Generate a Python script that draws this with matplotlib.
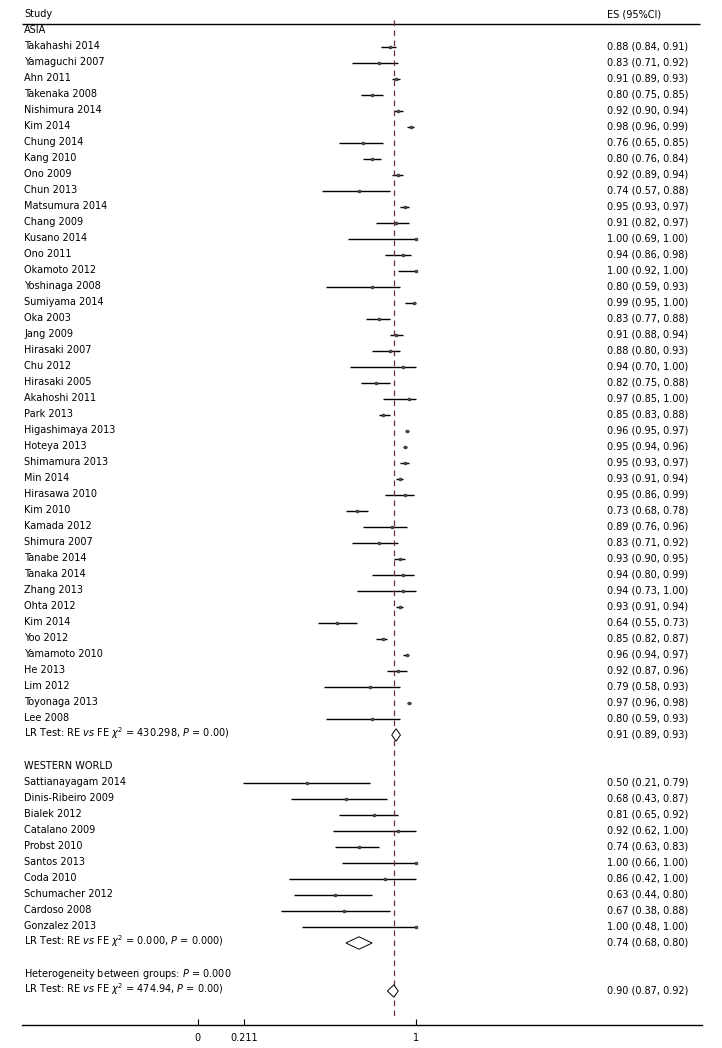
import numpy as np
import matplotlib.pyplot as plt
from matplotlib.patches import Polygon

plt.rcParams.update({
    "font.family": ["DejaVu Sans"],
    "font.size": 7.0,
    "mathtext.fontset": "dejavusans",
})

# ---- data ----
asia_studies = ["Takahashi 2014", "Yamaguchi 2007", "Ahn 2011", "Takenaka 2008",
                "Nishimura 2014", "Kim 2014", "Chung 2014", "Kang 2010", "Ono 2009",
                "Chun 2013", "Matsumura 2014", "Chang 2009", "Kusano 2014", "Ono 2011",
                "Okamoto 2012", "Yoshinaga 2008", "Sumiyama 2014", "Oka 2003", "Jang 2009",
                "Hirasaki 2007", "Chu 2012", "Hirasaki 2005", "Akahoshi 2011", "Park 2013",
                "Higashimaya 2013", "Hoteya 2013", "Shimamura 2013", "Min 2014",
                "Hirasawa 2010", "Kim 2010", "Kamada 2012", "Shimura 2007", "Tanabe 2014",
                "Tanaka 2014", "Zhang 2013", "Ohta 2012", "Kim 2014", "Yoo 2012",
                "Yamamoto 2010", "He 2013", "Lim 2012", "Toyonaga 2013", "Lee 2008"]
asia_es = [0.88, 0.83, 0.91, 0.80, 0.92, 0.98, 0.76, 0.80, 0.92, 0.74, 0.95, 0.91, 1.00,
           0.94, 1.00, 0.80, 0.99, 0.83, 0.91, 0.88, 0.94, 0.82, 0.97, 0.85, 0.96, 0.95,
           0.95, 0.93, 0.95, 0.73, 0.89, 0.83, 0.93, 0.94, 0.94, 0.93, 0.64, 0.85, 0.96,
           0.92, 0.79, 0.97, 0.80]
asia_lo = [0.84, 0.71, 0.89, 0.75, 0.90, 0.96, 0.65, 0.76, 0.89, 0.57, 0.93, 0.82, 0.69,
           0.86, 0.92, 0.59, 0.95, 0.77, 0.88, 0.80, 0.70, 0.75, 0.85, 0.83, 0.95, 0.94,
           0.93, 0.91, 0.86, 0.68, 0.76, 0.71, 0.90, 0.80, 0.73, 0.91, 0.55, 0.82, 0.94,
           0.87, 0.58, 0.96, 0.59]
asia_hi = [0.91, 0.92, 0.93, 0.85, 0.94, 0.99, 0.85, 0.84, 0.94, 0.88, 0.97, 0.97, 1.00,
           0.98, 1.00, 0.93, 1.00, 0.88, 0.94, 0.93, 1.00, 0.88, 1.00, 0.88, 0.97, 0.96,
           0.97, 0.94, 0.99, 0.78, 0.96, 0.92, 0.95, 0.99, 1.00, 0.94, 0.73, 0.87, 0.97,
           0.96, 0.93, 0.98, 0.93]

west_studies = ["Sattianayagam 2014", "Dinis-Ribeiro 2009", "Bialek 2012", "Catalano 2009",
                "Probst 2010", "Santos 2013", "Coda 2010", "Schumacher 2012",
                "Cardoso 2008", "Gonzalez 2013"]
west_es = [0.50, 0.68, 0.81, 0.92, 0.74, 1.00, 0.86, 0.63, 0.67, 1.00]
west_lo = [0.21, 0.43, 0.65, 0.62, 0.63, 0.66, 0.42, 0.44, 0.38, 0.48]
west_hi = [0.79, 0.87, 0.92, 1.00, 0.83, 1.00, 1.00, 0.80, 0.88, 1.00]

asia_pool = (0.91, 0.89, 0.93)
west_pool = (0.74, 0.68, 0.80)
overall_pool = (0.90, 0.87, 0.92)

asia_lr = r"LR Test: RE $\mathit{vs}$ FE $\chi^2$ = 430.298, $\mathit{P}$ = 0.00)"
west_lr = r"LR Test: RE $\mathit{vs}$ FE $\chi^2$ = 0.000, $\mathit{P}$ = 0.000)"
overall_lr = r"LR Test: RE $\mathit{vs}$ FE $\chi^2$ = 474.94, $\mathit{P}$ = 0.00)"
hetero_txt = r"Heterogeneity between groups: $\mathit{P}$ = 0.000"

xticks = [0, 0.211, 1]
xtick_labels = ["0", "0.211", "1"]

# ---- layout (pixel -> data helpers) ----
W, H = 722, 1048
x0_px, px_per_unit = 197.7, 218.0
row0_px, row_px = 31.0, 16.0
axis_px = 1025


def px2x(p):
    return (p - x0_px) / px_per_unit


def px2row(p):
    return (p - row0_px) / row_px


fig = plt.figure(figsize=(W / 100, H / 100), dpi=100)
ax = fig.add_axes([0, (H - axis_px) / H, 1, axis_px / H])
ax.set_xlim(px2x(0), px2x(W))
ax.set_ylim(px2row(axis_px), px2row(0))

x_text = px2x(24)
x_es = px2x(607)
txt_off = 0.15


def fmt(es, lo, hi):
    return f"{es:.2f} ({lo:.2f}, {hi:.2f})"


def study_rows(names, es, lo, hi, start):
    for i, (n, e, l, h) in enumerate(zip(names, es, lo, hi)):
        r = start + i
        ax.hlines(r, l, h, color="black", lw=1.0)
        ax.plot(e, r, marker="s", ms=1.6, color="#444444", mec="#444444")
        ax.text(x_text, r + txt_off, n, va="baseline", ha="left")
        ax.text(x_es, r + txt_off, fmt(e, l, h), va="baseline", ha="left")


def diamond(pool, r, half=0.39):
    es, lo, hi = pool
    ax.add_patch(Polygon([[lo, r], [es, r - half], [hi, r], [es, r + half]],
                         closed=True, fc="white", ec="black", lw=0.7, zorder=4))


# header
ax.text(x_text, -1 + txt_off, "Study", va="baseline", ha="left")
ax.text(x_es, -1 + txt_off, "ES (95%CI)", va="baseline", ha="left")
ax.hlines(px2row(23.5), px2x(22), px2x(700), color="black", lw=1.0)

# Asia
r = 0
ax.text(x_text, r + txt_off, "ASIA", va="baseline", ha="left")
study_rows(asia_studies, asia_es, asia_lo, asia_hi, r + 1)
r_asia_lr = r + 1 + len(asia_studies)
ax.text(x_text, r_asia_lr + txt_off, asia_lr, va="baseline", ha="left")
ax.text(x_es, r_asia_lr + txt_off, fmt(*asia_pool), va="baseline", ha="left")
diamond(asia_pool, r_asia_lr)

# Western world
r = r_asia_lr + 2
ax.text(x_text, r + txt_off, "WESTERN WORLD", va="baseline", ha="left")
study_rows(west_studies, west_es, west_lo, west_hi, r + 1)
r_west_lr = r + 1 + len(west_studies)
ax.text(x_text, r_west_lr + txt_off, west_lr, va="baseline", ha="left")
ax.text(x_es, r_west_lr + txt_off, fmt(*west_pool), va="baseline", ha="left")
diamond(west_pool, r_west_lr)

# overall
r_het = r_west_lr + 2
ax.text(x_text, r_het + txt_off, hetero_txt, va="baseline", ha="left")
r_all = r_het + 1
ax.text(x_text, r_all + txt_off, overall_lr, va="baseline", ha="left")
ax.text(x_es, r_all + txt_off, fmt(*overall_pool), va="baseline", ha="left")
diamond(overall_pool, r_all)

# overall effect line
ax.vlines(overall_pool[0], px2row(20), px2row(1020), color="#6e2f45", lw=0.9,
          linestyles=(0, (4.5, 3.5)), zorder=3)

# axis
for s in ["top", "right", "left"]:
    ax.spines[s].set_visible(False)
ax.spines["bottom"].set_bounds(px2x(22), px2x(702))
ax.spines["bottom"].set_linewidth(1.0)
ax.set_xticks(xticks)
ax.set_xticklabels(xtick_labels)
ax.tick_params(axis="x", direction="in", length=4, width=0.8, pad=6)
ax.set_yticks([])
ax.patch.set_alpha(0)

fig.savefig("out.png", dpi=100)
